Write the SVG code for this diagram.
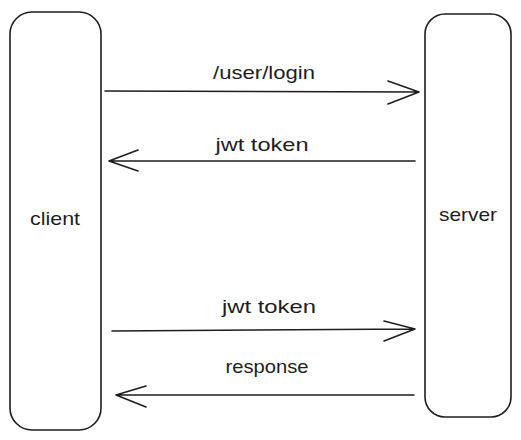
<svg xmlns="http://www.w3.org/2000/svg" width="521" height="440" viewBox="0 0 521 440">
<style>
.box{fill:none;stroke:#1e1e1e;stroke-width:1.6}
.ln{fill:none;stroke:#1e1e1e;stroke-width:1.6;stroke-linecap:round;stroke-linejoin:round}
.t{font-family:"Liberation Sans",Arial,sans-serif;font-size:19px;fill:#1e1e1e;text-anchor:middle}
</style>
<rect width="521" height="440" fill="#ffffff"/>
<g id="client">
<rect class="box" x="10" y="12" width="91" height="418" rx="22" ry="22"/>
<text class="t" x="55" y="225" textLength="50" lengthAdjust="spacingAndGlyphs">client</text>
</g>
<g id="server">
<rect class="box" x="425" y="14" width="86" height="403" rx="20" ry="20"/>
<text class="t" x="468" y="221" textLength="58" lengthAdjust="spacingAndGlyphs">server</text>
</g>
<g id="connectors">
<g id="e1">
<path class="ln" d="M105 91 L419 92 M388 81 L419 92 L388 104"/>
<text class="t" x="264" y="79" textLength="102" lengthAdjust="spacingAndGlyphs">/user/login</text>
</g>
<g id="e2">
<path class="ln" d="M415 161 L109 161 M138 150 L109 161 L138 171"/>
<text class="t" x="262" y="151" textLength="93" lengthAdjust="spacingAndGlyphs">jwt token</text>
</g>
<g id="e3">
<path class="ln" d="M112 331 L415 329 M384 321 L415 329 L384 341"/>
<text class="t" x="269" y="313" textLength="94" lengthAdjust="spacingAndGlyphs">jwt token</text>
</g>
<g id="e4">
<path class="ln" d="M414 395 L116 395 M146 386 L116 395 L146 407"/>
<text class="t" x="267" y="373" textLength="83" lengthAdjust="spacingAndGlyphs">response</text>
</g>
</g>
</svg>
